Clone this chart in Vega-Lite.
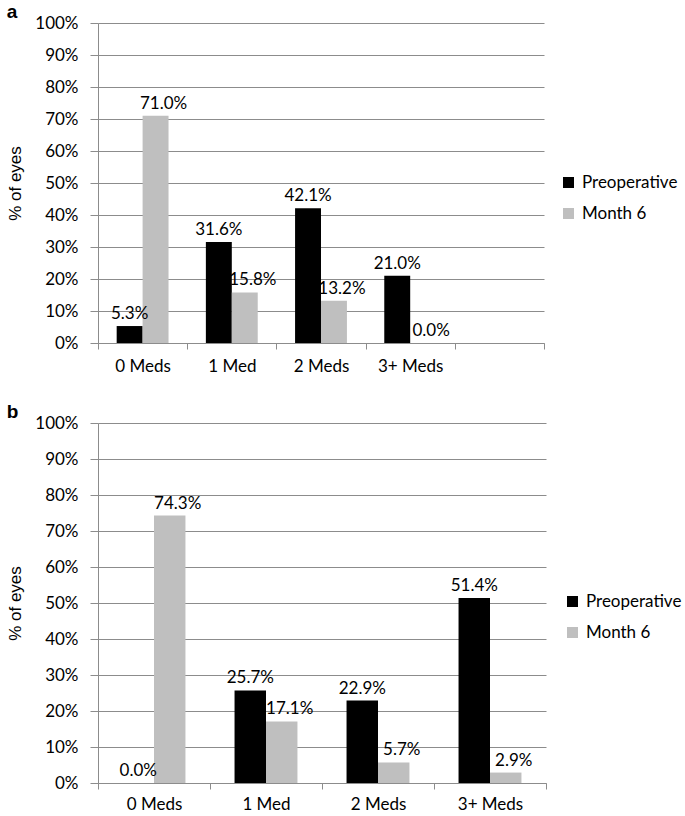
{
  "$schema": "https://vega.github.io/schema/vega-lite/v6.json",
  "padding": {"left": 6, "top": 3, "right": 0, "bottom": 0},
  "autosize": {"type": "pad"},
  "background": "white",
  "spacing": 29,
  "config": {
    "view": {"stroke": null},
    "font": "Lato",
    "axis": {
      "labelFont": "Lato",
      "labelFontSize": 17,
      "labelColor": "#000000",
      "domainColor": "#8c8c8c",
      "tickColor": "#8c8c8c",
      "gridColor": "#8c8c8c",
      "titleFont": "Liberation Sans",
      "titleFontWeight": "normal",
      "titleFontSize": 17,
      "titleColor": "#000000"
    },
    "legend": {
      "symbolType": "square",
      "symbolSize": 121,
      "symbolStrokeWidth": 0,
      "labelFont": "Lato",
      "labelFontSize": 17,
      "labelColor": "#000000",
      "rowPadding": 13,
      "labelOffset": 5
    },
    "title": {
      "anchor": "start",
      "frame": "bounds",
      "fontSize": 19,
      "fontWeight": "bold",
      "font": "Liberation Sans",
      "offset": -8,
      "color": "#000000"
    }
  },
  "resolve": {
    "scale": {"x": "independent", "xOffset": "independent", "y": "independent", "color": "independent"},
    "legend": {"color": "independent"}
  },
  "vconcat": [
    {
      "title": {"text": "a"},
      "width": 446,
      "height": 320,
      "data": {"values": [
        {"meds": "0 Meds", "period": "Preoperative", "pct": 0.053},
        {"meds": "0 Meds", "period": "Month 6", "pct": 0.710},
        {"meds": "1 Med", "period": "Preoperative", "pct": 0.316},
        {"meds": "1 Med", "period": "Month 6", "pct": 0.158},
        {"meds": "2 Meds", "period": "Preoperative", "pct": 0.421},
        {"meds": "2 Meds", "period": "Month 6", "pct": 0.132},
        {"meds": "3+ Meds", "period": "Preoperative", "pct": 0.210},
        {"meds": "3+ Meds", "period": "Month 6", "pct": 0.000}
      ]},
      "encoding": {
        "x": {
          "field": "meds", "type": "nominal",
          "scale": {"domain": ["0 Meds", "1 Med", "2 Meds", "3+ Meds", " "], "paddingInner": 0, "paddingOuter": 0},
          "axis": {"title": null, "labelAngle": 0, "tickBand": "extent", "tickSize": 6, "labelPadding": 9, "grid": false}
        },
        "xOffset": {
          "field": "period", "type": "nominal",
          "scale": {"domain": ["Preoperative", "Month 6"], "paddingOuter": 0.72, "paddingInner": 0}
        },
        "y": {
          "field": "pct", "type": "quantitative",
          "scale": {"domain": [0, 1]},
          "axis": {"title": "% of eyes", "format": ".0%", "values": [0, 0.1, 0.2, 0.3, 0.4, 0.5, 0.6, 0.7, 0.8, 0.9, 1], "tickSize": 8, "labelPadding": 12, "titlePadding": 10, "grid": true}
        }
      },
      "layer": [
        {
          "mark": {"type": "bar"},
          "encoding": {
            "color": {
              "field": "period", "type": "nominal",
              "scale": {"domain": ["Preoperative", "Month 6"], "range": ["#000000", "#bfbfbf"]},
              "legend": {"title": null, "orient": "none", "legendX": 462, "legendY": 151}
            }
          }
        },
        {
          "transform": [{"filter": "datum.period == 'Preoperative'"}],
          "mark": {"type": "text", "baseline": "alphabetic", "dy": -7, "fontSize": 17, "font": "Lato", "color": "#000000"},
          "encoding": {"text": {"field": "pct", "type": "quantitative", "format": ".1%"}}
        },
        {
          "transform": [{"filter": "datum.period == 'Month 6'"}],
          "mark": {"type": "text", "baseline": "alphabetic", "dy": -7, "dx": 8, "fontSize": 17, "font": "Lato", "color": "#000000"},
          "encoding": {"text": {"field": "pct", "type": "quantitative", "format": ".1%"}}
        }
      ]
    },
    {
      "title": {"text": "b"},
      "width": 448,
      "height": 360,
      "data": {"values": [
        {"meds": "0 Meds", "period": "Preoperative", "pct": 0.000},
        {"meds": "0 Meds", "period": "Month 6", "pct": 0.743},
        {"meds": "1 Med", "period": "Preoperative", "pct": 0.257},
        {"meds": "1 Med", "period": "Month 6", "pct": 0.171},
        {"meds": "2 Meds", "period": "Preoperative", "pct": 0.229},
        {"meds": "2 Meds", "period": "Month 6", "pct": 0.057},
        {"meds": "3+ Meds", "period": "Preoperative", "pct": 0.514},
        {"meds": "3+ Meds", "period": "Month 6", "pct": 0.029}
      ]},
      "encoding": {
        "x": {
          "field": "meds", "type": "nominal",
          "scale": {"domain": ["0 Meds", "1 Med", "2 Meds", "3+ Meds"], "paddingInner": 0, "paddingOuter": 0},
          "axis": {"title": null, "labelAngle": 0, "tickBand": "extent", "tickSize": 6, "labelPadding": 7, "grid": false}
        },
        "xOffset": {
          "field": "period", "type": "nominal",
          "scale": {"domain": ["Preoperative", "Month 6"], "paddingOuter": 0.78, "paddingInner": 0}
        },
        "y": {
          "field": "pct", "type": "quantitative",
          "scale": {"domain": [0, 1]},
          "axis": {"title": "% of eyes", "format": ".0%", "values": [0, 0.1, 0.2, 0.3, 0.4, 0.5, 0.6, 0.7, 0.8, 0.9, 1], "tickSize": 8, "labelPadding": 12, "titlePadding": 10, "grid": true}
        }
      },
      "layer": [
        {
          "mark": {"type": "bar"},
          "encoding": {
            "color": {
              "field": "period", "type": "nominal",
              "scale": {"domain": ["Preoperative", "Month 6"], "range": ["#000000", "#bfbfbf"]},
              "legend": {"title": null, "orient": "none", "legendX": 466, "legendY": 170}
            }
          }
        },
        {
          "transform": [{"filter": "datum.period == 'Preoperative'"}],
          "mark": {"type": "text", "baseline": "alphabetic", "dy": -7, "fontSize": 17, "font": "Lato", "color": "#000000"},
          "encoding": {"text": {"field": "pct", "type": "quantitative", "format": ".1%"}}
        },
        {
          "transform": [{"filter": "datum.period == 'Month 6'"}],
          "mark": {"type": "text", "baseline": "alphabetic", "dy": -7, "dx": 8, "fontSize": 17, "font": "Lato", "color": "#000000"},
          "encoding": {"text": {"field": "pct", "type": "quantitative", "format": ".1%"}}
        }
      ]
    }
  ]
}
